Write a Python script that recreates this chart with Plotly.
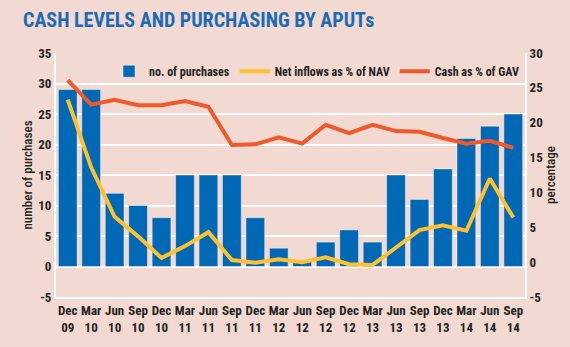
import plotly.graph_objects as go

quarters = ["Dec<br>09", "Mar<br>10", "Jun<br>10", "Sep<br>10", "Dec<br>10", "Mar<br>11", "Jun<br>11",
            "Sep<br>11", "Dec<br>11", "Mar<br>12", "Jun<br>12", "Sep<br>12", "Dec<br>12", "Mar<br>13",
            "Jun<br>13", "Sep<br>13", "Dec<br>13", "Mar<br>14", "Jun<br>14", "Sep<br>14"]
purchases = [29, 29, 12, 10, 8, 15, 15, 15, 8, 3, 1, 4, 6, 4, 15, 11, 16, 21, 23, 25]
net_inflows_pct_nav = [23.3, 13.6, 6.5, 3.7, 0.6, 2.3, 4.3, 0.3, -0.1, 0.4, 0.0, 0.7, -0.3, -0.4,
                       2.1, 4.6, 5.3, 4.5, 12.0, 6.4]
cash_pct_gav = [26.1, 22.6, 23.3, 22.5, 22.5, 23.1, 22.3, 16.8, 16.9, 17.9, 17.0, 19.7, 18.5, 19.7,
                18.8, 18.7, 17.8, 17.0, 17.4, 16.4]

# axis tick values and their labels (plain hyphen for negatives)
left_ticks = [-5, 0, 5, 10, 15, 20, 25, 30, 35]
left_labels = ["-5", "0", "5", "10", "15", "20", "25", "30", "35"]
right_ticks = [-5, 0, 5, 10, 15, 20, 25, 30]
right_labels = ["-5", "0", "5", "10", "15", "20", "25", "30"]

BG = "#F2D9D1"
BLUE = "#0068B4"
YELLOW = "#FDC02F"
ORANGE = "#F0592A"
TXT = "#231F20"
FONT = "Roboto Condensed, Open Sans Condensed, sans-serif"

tick_font = dict(family=FONT, size=13, color=TXT, weight="bold")
title_font = dict(family=FONT, size=13, color=TXT, weight=500)

fig = go.Figure()
fig.add_trace(go.Bar(
    x=quarters, y=purchases, name="no. of purchases",
    marker=dict(color=BLUE, line=dict(color="rgba(255,255,255,0.45)", width=1)),
))
fig.add_trace(go.Scatter(
    x=quarters, y=net_inflows_pct_nav, name="Net inflows as % of NAV", yaxis="y2",
    mode="lines", line=dict(color=YELLOW, width=4),
))
fig.add_trace(go.Scatter(
    x=quarters, y=cash_pct_gav, name="Cash as % of GAV", yaxis="y2",
    mode="lines", line=dict(color=ORANGE, width=4),
))

fig.update_layout(
    width=570, height=347,
    paper_bgcolor=BG, plot_bgcolor=BG,
    margin=dict(l=56, r=45, t=53, b=41),
    font=dict(family=FONT, size=12, color=TXT),
    bargap=0.2,
    showlegend=True,
    legend=dict(orientation="h", x=1, y=0.985, xanchor="right", yanchor="top",
                bgcolor="rgba(0,0,0,0)", font=dict(family=FONT, size=12, color=TXT, weight="bold"),
                itemwidth=30, tracegroupgap=0),
    title=dict(text="<b>CASH LEVELS AND PURCHASING BY APUTs</b>", x=23 / 570, xref="container",
               xanchor="left", y=1 - 20 / 347, yref="container", yanchor="middle",
               font=dict(family=FONT, size=20, color="#1B6BB5", weight="bold")),
    xaxis=dict(showgrid=False, showline=True, linecolor="white", linewidth=2,
               tickfont=tick_font, ticks="", fixedrange=True),
    yaxis=dict(range=[-5, 35], tickvals=left_ticks, ticktext=left_labels,
               showgrid=True, gridcolor="white", gridwidth=2,
               zeroline=False, showline=True, linecolor="white", linewidth=2,
               tickfont=tick_font,
               title=dict(text="number of purchases", font=title_font, standoff=3)),
    yaxis2=dict(range=[-5, 30], tickvals=right_ticks, ticktext=right_labels,
                overlaying="y", side="right", showgrid=False,
                zeroline=False, showline=True, linecolor="white", linewidth=2,
                tickfont=tick_font,
                title=dict(text="percentage", font=title_font, standoff=4)),
)

fig.write_html("out.html")
